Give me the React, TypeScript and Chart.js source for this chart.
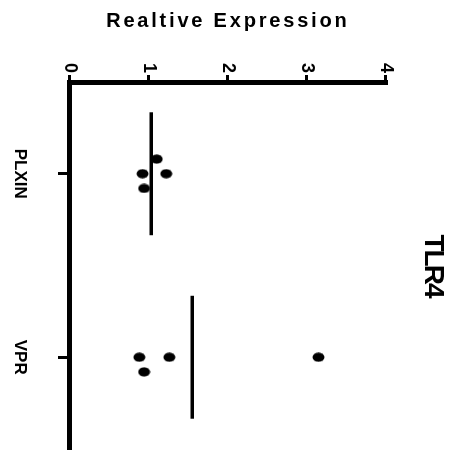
import React, { useEffect, useRef } from 'react';
import { Chart, registerables } from 'chart.js';

Chart.register(...registerables);

// ---- data ----
const categories = ['PLXIN', 'VPR'];
const plxinValues = [1.10, 0.92, 1.22, 0.94];
const plxinJitter = [-0.08, 0, 0, 0.08];
const vprValues = [0.88, 1.26, 0.94, 3.15];
const vprJitter = [0, 0, 0.08, 0];
const meanValues = [1.03, 1.55];
const valueTicks = [0, 1, 2, 3, 4];
const valueTitle = 'Realtive Expression';
const chartTitle = 'TLR4';

const NARROW = "'Liberation Sans Narrow', 'Liberation Sans', Arial, sans-serif";
const SANS = "'Liberation Sans', Arial, sans-serif";

function makeDot(): HTMLCanvasElement {
  const c = document.createElement('canvas');
  c.width = 10;
  c.height = 13;
  const g = c.getContext('2d')!;
  g.fillStyle = '#000';
  g.beginPath();
  g.ellipse(5, 6.5, 4.6, 6, 0, 0, Math.PI * 2);
  g.fill();
  return c;
}

function patchTitleSpacing(s: any, spacing: string) {
  if (!s || s.__spaced) return;
  const orig = s.drawTitle;
  s.drawTitle = function (...args: any[]) {
    const c: any = this.ctx;
    const prev = c.letterSpacing;
    c.letterSpacing = spacing;
    orig.apply(this, args);
    c.letterSpacing = prev || '0px';
  };
  s.__spaced = true;
}

const spacingPlugin = {
  id: 'titleSpacing',
  beforeDraw(chart: any) {
    patchTitleSpacing(chart.scales.y, '2.8px');
    patchTitleSpacing(chart.scales.x2, '-2px');
  },
};

export default function App() {
  const ref = useRef<HTMLCanvasElement>(null);

  useEffect(() => {
    if (!ref.current) return;
    const dot = makeDot();
    const points = [
      ...plxinValues.map((v, i) => ({ x: 0 + plxinJitter[i], y: v })),
      ...vprValues.map((v, i) => ({ x: 1 + vprJitter[i], y: v })),
    ];
    const meanSets = meanValues.map((m, i) => ({
      type: 'line' as const,
      data: [
        { x: i - 0.335, y: m },
        { x: i + 0.335, y: m },
      ],
      showLine: true,
      borderColor: '#000',
      borderWidth: 3.5,
      pointRadius: 0,
      borderCapStyle: 'butt' as const,
    }));

    const chart = new Chart(ref.current, {
      type: 'scatter',
      data: {
        datasets: [
          {
            data: points,
            pointStyle: dot as any,
            pointRadius: 6,
            backgroundColor: '#000',
            borderColor: '#000',
          },
          ...(meanSets as any),
        ],
      },
      plugins: [spacingPlugin as any],
      options: {
        animation: false,
        responsive: false,
        devicePixelRatio: 1,
        layout: { padding: { left: 0, top: 0, right: 4.5, bottom: 0 } },
        plugins: {
          legend: { display: false },
          tooltip: { enabled: false },
          title: { display: false },
        },
        scales: {
          x: {
            type: 'linear',
            position: 'bottom',
            min: -0.5,
            max: 1.5,
            afterBuildTicks: (s: any) => {
              s.ticks = categories.map((_, i) => ({ value: i }));
            },
            afterFit: (s: any) => {
              s.height = 70;
            },
            ticks: {
              callback: (v: any) => categories[v as number],
              font: { family: SANS, size: 17, weight: 'bold' },
              color: '#000',
              padding: 28,
              autoSkip: false,
              maxRotation: 0,
              minRotation: 0,
            },
            grid: {
              drawOnChartArea: false,
              tickLength: 12,
              tickWidth: 3,
              tickColor: '#000',
            },
            border: { width: 5, color: '#000' },
          },
          y: {
            type: 'linear',
            position: 'left',
            min: 0,
            max: 4,
            afterBuildTicks: (s: any) => {
              s.ticks = valueTicks.map((v) => ({ value: v }));
            },
            afterFit: (s: any) => {
              s.width = 82;
            },
            ticks: {
              font: { family: NARROW, size: 18, weight: 'bold' },
              color: '#000',
              padding: 2,
            },
            grid: {
              drawOnChartArea: false,
              tickLength: 7,
              tickWidth: 3,
              tickColor: '#000',
            },
            border: { width: 5, color: '#000' },
            title: {
              display: true,
              text: valueTitle,
              color: '#000',
              font: { family: SANS, size: 20, weight: 'bold' },
              padding: { top: 9, bottom: 0 },
            },
          },
          x2: {
            type: 'linear',
            position: 'top',
            display: true,
            grid: { display: false },
            border: { display: false },
            ticks: { display: false },
            afterFit: (s: any) => {
              s.height = 67.4;
            },
            title: {
              display: true,
              text: chartTitle,
              color: '#000',
              font: { family: NARROW, size: 28, weight: 'bold' },
              padding: { top: 3, bottom: 0 },
            },
          },
        },
      } as any,
    });
    return () => chart.destroy();
  }, []);

  return (
    <div
      style={{
        position: 'fixed',
        left: 0,
        top: 0,
        width: 453,
        height: 456,
        overflow: 'hidden',
        background: '#fff',
      }}
    >
      <div
        style={{
          position: 'absolute',
          left: 0,
          top: 0,
          width: 456,
          height: 453,
          transformOrigin: '0 0',
          transform: 'translateX(453px) rotate(90deg)',
        }}
      >
        <canvas ref={ref} width={456} height={453} style={{ display: 'block' }} />
      </div>
    </div>
  );
}
